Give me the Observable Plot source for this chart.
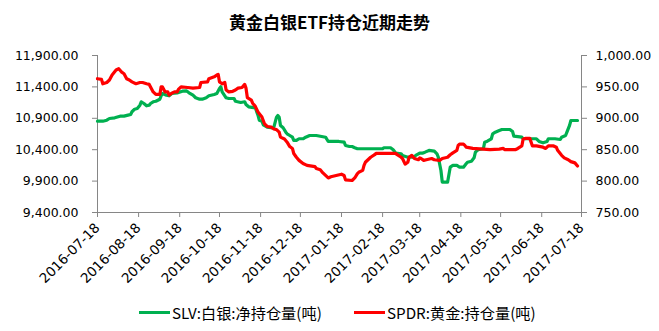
<!DOCTYPE html>
<html><head><meta charset="utf-8">
<script src="https://cdn.jsdelivr.net/npm/d3@7"></script>
<script src="https://cdn.jsdelivr.net/npm/@observablehq/plot@0.6"></script>
<style>
html,body{margin:0;padding:0;background:#fff;}
body{width:659px;height:331px;overflow:hidden;position:relative;font-family:"DejaVu Sans",sans-serif;}
#title{position:absolute;left:0;top:0;width:659px;height:40px;line-height:44px;text-align:center;font-family:"Noto Sans CJK SC";font-weight:bold;font-size:17px;color:#000;}
#chart{position:absolute;left:0;top:40px;}
.lg{position:absolute;top:302px;height:20px;display:flex;align-items:center;font-family:"Noto Sans CJK SC";font-size:15.2px;color:#000;white-space:nowrap;}
.lg span.sw{display:inline-block;width:31px;height:3px;margin-right:2px;}
</style></head><body>
<div id="title">黄金白银ETF持仓近期走势</div>
<div id="chart"></div>
<div class="lg" style="left:139px"><span class="sw" style="background:#00B050"></span><span id="lg1"></span></div>
<div class="lg" style="left:354px"><span class="sw" style="background:#FF0000"></span><span id="lg2"></span></div>
<script>
const titleText = "黄金白银ETF持仓近期走势";
const seriesNames = ["SLV:白银:净持仓量(吨)", "SPDR:黄金:持仓量(吨)"];
const seriesColors = ["#00B050", "#FF0000"];
const leftTicks = [9400, 9900, 10400, 10900, 11400, 11900];
const rightTicks = [750, 800, 850, 900, 950, 1000];
const xTickLabels = ["2016-07-18","2016-08-18","2016-09-18","2016-10-18","2016-11-18","2016-12-18","2017-01-18","2017-02-18","2017-03-18","2017-04-18","2017-05-18","2017-06-18","2017-07-18"];

const slvDates = ["2016-07-18","2016-07-22","2016-07-25","2016-07-27","2016-07-31","2016-08-04","2016-08-07","2016-08-10","2016-08-12","2016-08-13","2016-08-15","2016-08-17","2016-08-19","2016-08-20","2016-08-22","2016-08-24","2016-08-26","2016-08-27","2016-08-29","2016-08-31","2016-09-03","2016-09-04","2016-09-05","2016-09-08","2016-09-10","2016-09-12","2016-09-14","2016-09-16","2016-09-20","2016-09-23","2016-09-25","2016-09-28","2016-09-30","2016-10-03","2016-10-05","2016-10-08","2016-10-10","2016-10-14","2016-10-16","2016-10-18","2016-10-19","2016-10-20","2016-10-23","2016-10-25","2016-10-29","2016-10-30","2016-11-03","2016-11-06","2016-11-07","2016-11-09","2016-11-14","2016-11-16","2016-11-17","2016-11-19","2016-11-20","2016-11-23","2016-11-26","2016-11-28","2016-11-30","2016-12-01","2016-12-02","2016-12-03","2016-12-05","2016-12-07","2016-12-08","2016-12-10","2016-12-12","2016-12-13","2016-12-15","2016-12-17","2016-12-20","2016-12-22","2016-12-25","2016-12-30","2017-01-03","2017-01-06","2017-01-08","2017-01-16","2017-01-20","2017-01-21","2017-01-24","2017-01-26","2017-01-28","2017-01-30","2017-02-18","2017-02-19","2017-02-24","2017-02-26","2017-02-28","2017-03-04","2017-03-05","2017-03-09","2017-03-13","2017-03-15","2017-03-18","2017-03-20","2017-03-22","2017-03-25","2017-03-29","2017-03-31","2017-04-01","2017-04-03","2017-04-04","2017-04-08","2017-04-10","2017-04-12","2017-04-15","2017-04-17","2017-04-20","2017-04-22","2017-04-23","2017-04-26","2017-04-28","2017-04-29","2017-05-01","2017-05-05","2017-05-06","2017-05-08","2017-05-11","2017-05-12","2017-05-14","2017-05-17","2017-05-19","2017-05-25","2017-05-27","2017-05-28","2017-06-03","2017-06-04","2017-06-14","2017-06-16","2017-06-19","2017-06-22","2017-06-23","2017-06-28","2017-07-02","2017-07-03","2017-07-06","2017-07-07","2017-07-09","2017-07-10","2017-07-15"];
const slvValues = [10854,10854,10870,10897,10908,10934,10934,10950,10961,11004,11045,11056,11109,11163,11136,11099,11109,11136,11163,11172,11204,11258,11295,11268,11258,11295,11300,11305,11332,11338,11306,11268,11227,11204,11204,11227,11258,11279,11295,11375,11402,11322,11227,11215,11215,11172,11152,11163,11120,11083,11067,10950,10870,10854,10797,10759,10749,10759,10918,10945,10918,10786,10749,10679,10653,10626,10599,10547,10547,10574,10574,10599,10626,10626,10610,10599,10531,10531,10520,10467,10451,10451,10431,10415,10415,10431,10431,10399,10345,10335,10308,10281,10281,10308,10345,10345,10361,10388,10377,10335,10281,10069,9883,9883,10122,10149,10149,10122,10122,10176,10201,10217,10271,10361,10399,10415,10520,10536,10574,10653,10679,10706,10722,10722,10690,10615,10599,10574,10574,10531,10510,10531,10574,10574,10563,10599,10626,10679,10786,10865,10865];

const spdrDates = ["2016-07-18","2016-07-21","2016-07-22","2016-07-25","2016-07-27","2016-07-29","2016-08-01","2016-08-03","2016-08-05","2016-08-07","2016-08-09","2016-08-11","2016-08-13","2016-08-16","2016-08-19","2016-08-21","2016-08-24","2016-08-26","2016-08-29","2016-08-31","2016-09-03","2016-09-04","2016-09-05","2016-09-07","2016-09-09","2016-09-10","2016-09-12","2016-09-14","2016-09-16","2016-09-17","2016-09-19","2016-09-24","2016-09-28","2016-10-03","2016-10-04","2016-10-09","2016-10-10","2016-10-14","2016-10-16","2016-10-17","2016-10-18","2016-10-20","2016-10-22","2016-10-23","2016-10-25","2016-10-28","2016-10-30","2016-11-01","2016-11-04","2016-11-06","2016-11-07","2016-11-08","2016-11-11","2016-11-12","2016-11-14","2016-11-16","2016-11-19","2016-11-21","2016-11-23","2016-11-26","2016-11-28","2016-11-30","2016-12-02","2016-12-03","2016-12-06","2016-12-08","2016-12-10","2016-12-12","2016-12-13","2016-12-15","2016-12-17","2016-12-20","2016-12-23","2016-12-29","2016-12-30","2017-01-02","2017-01-04","2017-01-06","2017-01-08","2017-01-10","2017-01-14","2017-01-18","2017-01-20","2017-01-21","2017-01-26","2017-01-28","2017-01-30","2017-01-31","2017-02-03","2017-02-04","2017-02-05","2017-02-07","2017-02-09","2017-02-12","2017-02-13","2017-02-28","2017-03-01","2017-03-04","2017-03-05","2017-03-07","2017-03-09","2017-03-10","2017-03-12","2017-03-14","2017-03-17","2017-03-18","2017-03-19","2017-03-21","2017-03-23","2017-03-27","2017-03-29","2017-04-02","2017-04-04","2017-04-08","2017-04-10","2017-04-12","2017-04-15","2017-04-16","2017-04-17","2017-04-20","2017-04-21","2017-04-22","2017-04-27","2017-05-10","2017-05-17","2017-05-20","2017-05-21","2017-05-29","2017-05-31","2017-06-03","2017-06-04","2017-06-06","2017-06-09","2017-06-11","2017-06-14","2017-06-19","2017-06-21","2017-06-23","2017-06-27","2017-06-29","2017-06-30","2017-07-03","2017-07-05","2017-07-08","2017-07-10","2017-07-13","2017-07-15"];
const spdrValues = [963,962,955,957,961,969,977,979,974,971,963,961,958,955,957,957,955,954,942,938,938,950,950,942,942,937,940,942,942,946,950,949,948,949,957,958,963,966,969,970,958,955,957,945,942,943,945,948,949,954,948,933,929,924,919,910,902,891,887,886,883,882,878,870,867,862,855,852,844,838,833,828,825,823,820,818,813,809,805,807,809,811,809,802,801,805,812,814,817,825,830,834,838,842,844,844,842,838,836,827,830,838,841,836,834,837,836,833,834,836,834,833,836,838,842,845,849,857,859,859,857,854,852,850,851,852,850,850,852,856,867,868,868,856,856,854,852,856,856,854,849,841,837,834,831,829,824];

document.getElementById("title").textContent = titleText;
document.getElementById("lg1").textContent = seriesNames[0];
document.getElementById("lg2").textContent = seriesNames[1];

const parse = d3.utcParse("%Y-%m-%d");
const slv = slvDates.map((d, i) => ({date: parse(d), value: slvValues[i]}));
const spdr = spdrDates.map((d, i) => ({date: parse(d), value: spdrValues[i]}));
const xTicks = xTickLabels.map(parse);
const xDomain = [xTicks[0], xTicks[xTicks.length - 1]];
const yDomain = [leftTicks[0], leftTicks[leftTicks.length - 1]];
const k = (yDomain[1] - yDomain[0]) / (rightTicks[rightTicks.length - 1] - rightTicks[0]);
const toLeft = v => yDomain[0] + (v - rightTicks[0]) * k;
const fromLeft = v => rightTicks[0] + (v - yDomain[0]) / k;
const fmt = d3.format(",.2f");
const axisGray = "#868686";

const chart = Plot.plot({
  width: 659, height: 250,
  marginLeft: 97, marginRight: 78, marginTop: 15, marginBottom: 78,
  x: {type: "utc", domain: xDomain},
  y: {domain: yDomain},
  style: {fontFamily: "DejaVu Sans", fontSize: "12.5px", color: "#000", background: "#fff"},
  marks: [
    Plot.ruleY([yDomain[0]], {stroke: axisGray, strokeWidth: 1}),
    Plot.ruleX(xDomain, {stroke: axisGray, strokeWidth: 1}),
    Plot.axisY({anchor: "left", ticks: leftTicks, tickFormat: fmt, tickSize: 5, tickPadding: 14, label: null, stroke: axisGray}),
    Plot.axisY({anchor: "right", ticks: rightTicks.map(toLeft), tickFormat: d => fmt(fromLeft(d)), tickSize: 5, tickPadding: 9, label: null, stroke: axisGray}),
    Plot.axisX({ticks: xTicks, tickFormat: d3.utcFormat("%Y-%m-%d"), tickRotate: -45, tickSize: 5, tickPadding: 8, label: null, stroke: axisGray, fontSize: 13.5}),
    Plot.line(slv, {x: "date", y: "value", stroke: seriesColors[0], strokeWidth: 3.2, strokeLinejoin: "round"}),
    Plot.line(spdr, {x: "date", y: d => toLeft(d.value), stroke: seriesColors[1], strokeWidth: 3.2, strokeLinejoin: "round"})
  ]
});
document.getElementById("chart").appendChild(chart);
</script>
</body></html>
